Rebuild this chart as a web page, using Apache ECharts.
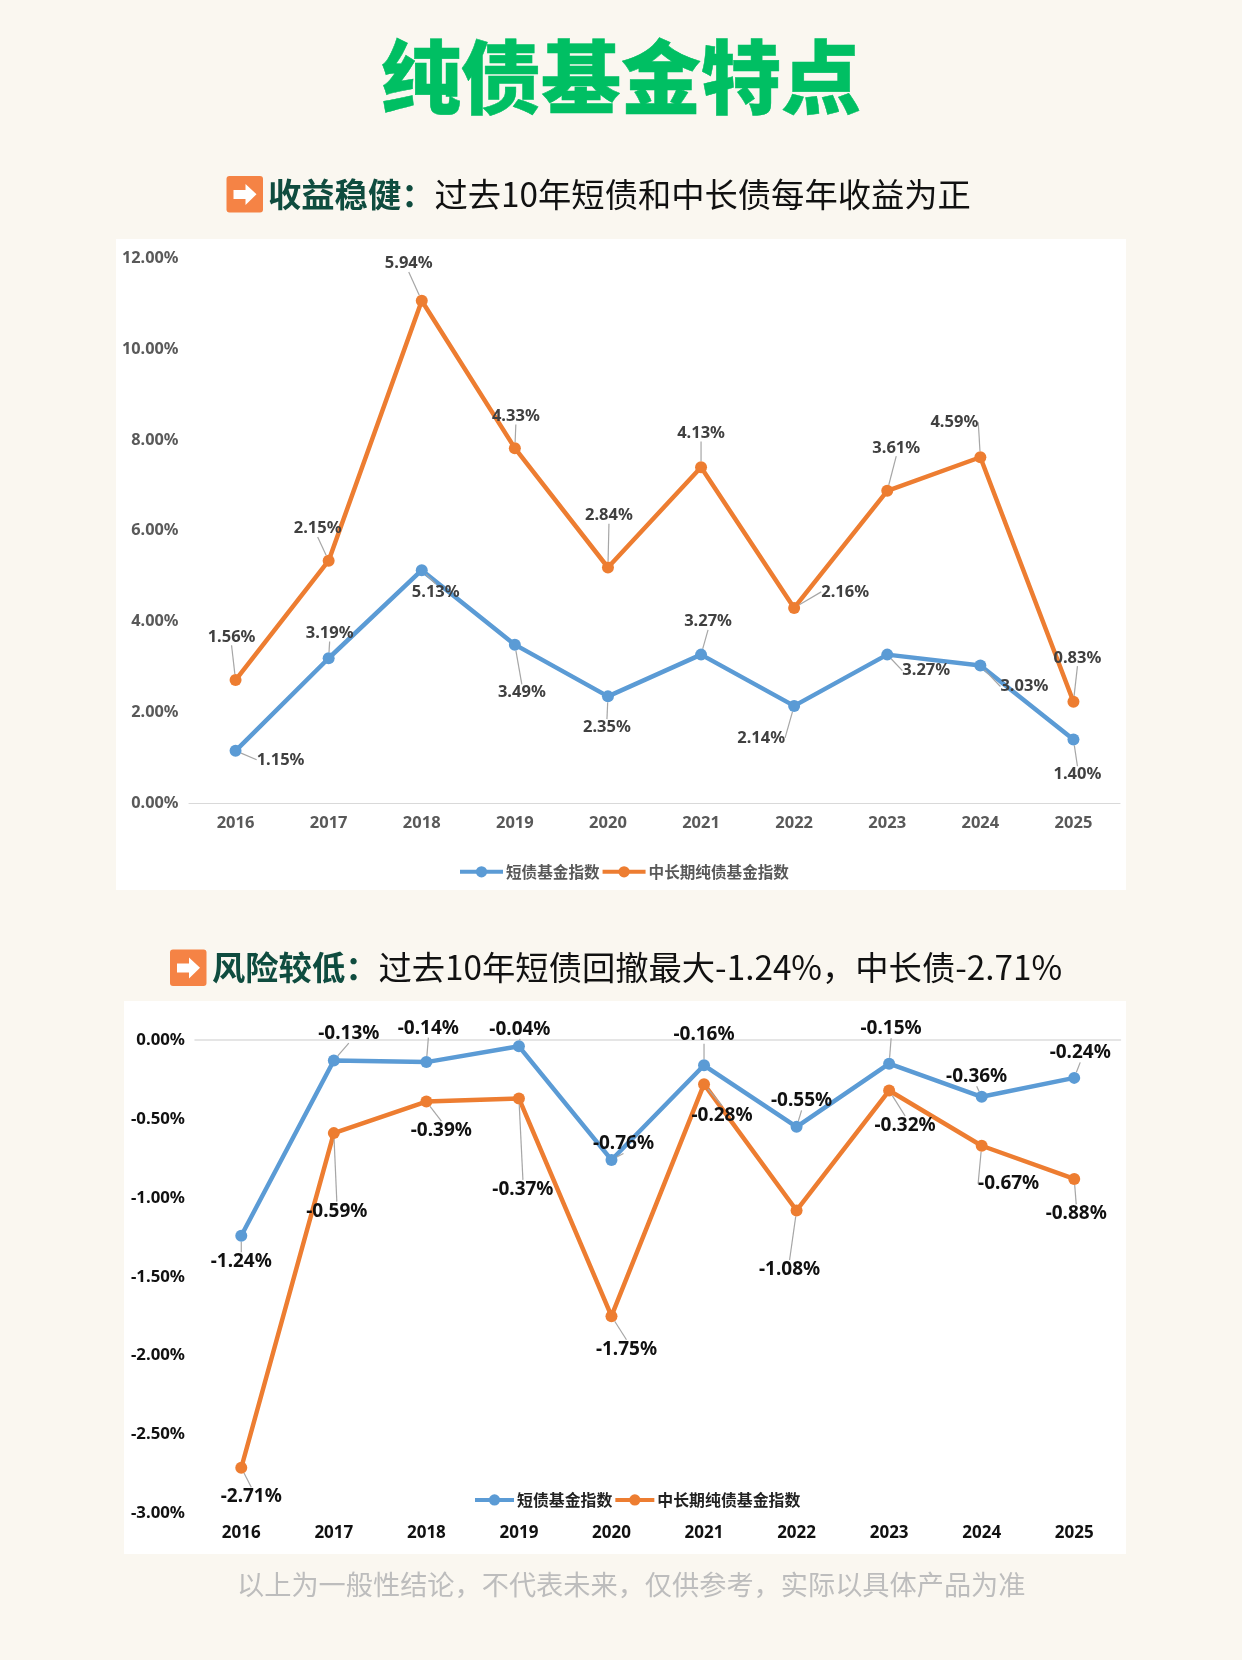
<!DOCTYPE html>
<html><head><meta charset="utf-8">
<style>html,body{margin:0;padding:0;background:#FAF7F0}#c{width:1242px;height:1660px}</style>
<script src="https://cdn.jsdelivr.net/npm/echarts@6/dist/echarts.min.js"></script>
</head><body><div id="c"></div>
<script>
const years = ['2016','2017','2018','2019','2020','2021','2022','2023','2024','2025'];
const SHORT = '短债基金指数', MID = '中长期纯债基金指数';
const returnShort = [1.15,3.19,5.13,3.49,2.35,3.27,2.14,3.27,3.03,1.40];
const returnMid = [1.56,2.15,5.94,4.33,2.84,4.13,2.16,3.61,4.59,0.83];
const drawdownShort = [-1.24,-0.13,-0.14,-0.04,-0.76,-0.16,-0.55,-0.15,-0.36,-0.24];
const drawdownMid = [-2.71,-0.59,-0.39,-0.37,-1.75,-0.28,-1.08,-0.32,-0.67,-0.88];

// label offsets from the marker, [dx, dy] in px
const offReturnShort = [[45,9],[1,-25],[14,22],[7,48],[-1,31],[7,-33],[-33,32],[39,16],[44,21],[4,35]];
const offReturnMid = [[-4,-43],[-11,-32],[-13,-37],[1,-32],[1,-52],[0,-34],[51,-16],[9,-43],[-26,-35],[4,-44]];
const offDrawShort = [[0,26],[15,-27],[2,-34],[1,-17],[12,-16],[0,-31],[5,-26],[2,-35],[-5,-20],[6,-25]];
const offDrawMid = [[10,29],[3,78],[15,29],[4,91],[15,33],[18,31],[-7,59],[16,35],[27,38],[2,35]];

const FONT = '"Noto Sans","Noto Sans CJK SC",sans-serif';
const CJK = '"Noto Sans CJK SC",sans-serif';
const BLUE = '#5B9BD5', ORANGE = '#ED7D31';
const pct = v => Number(v).toFixed(2) + '%';

function line(name, data, color, off, labelSize, labelColor, gi, stack) {
  return {
    type:'line', name, data, stack, xAxisIndex:gi===0?0:1, yAxisIndex:gi,
    symbol:'circle', symbolSize:12, showSymbol:true, smooth:false,
    lineStyle:{color, width:4.5}, itemStyle:{color},
    label:{show:true, position:'inside', formatter:p=>pct(p.value),
      fontFamily:FONT, fontSize:labelSize, fontWeight:'bold', color:labelColor},
    labelLine:{show:true, smooth:false, lineStyle:{color:'#A6A6A6', width:1.2}},
    labelLayout:p=>({dx:off[p.dataIndex][0], dy:off[p.dataIndex][1], hideOverlap:false}),
    animation:false, silent:true, z:3
  };
}
function icon(x,y){
  return {type:'group', x, y, z:5, children:[
    {type:'rect', shape:{x:0,y:0,width:36.5,height:36.5,r:3}, style:{fill:'#F58345'}},
    {type:'polygon', shape:{points:[[7,14],[19,14],[19,8],[30,18.3],[19,29],[19,23],[7,23]]}, style:{fill:'#fff'}}
  ]};
}
const head = (x,y,a,b)=>({text:`{a|${a}}{b|${b}}`, left:x, top:y, padding:0,
  textStyle:{rich:{
    a:{fontFamily:CJK,fontSize:33.3,fontWeight:'bold',color:'#0F4C3F'},
    b:{fontFamily:CJK,fontSize:33.3,fontWeight:'normal',color:'#111111'}}}});

const option = {
  backgroundColor:'#FAF7F0', animation:false,
  title:[
    {text:'纯债基金特点', left:621, top:37, padding:0, textAlign:'center',
     textStyle:{fontFamily:CJK,fontSize:80,fontWeight:900,color:'#00BF63',textBorderColor:'#00BF63',textBorderWidth:0.5}},
    head(268,178,'收益稳健：','过去10年短债和中长债每年收益为正'),
    head(212,951,'风险较低：','过去10年短债回撤最大-1.24%，中长债-2.71%'),
    {text:'以上为一般性结论，不代表未来，仅供参考，实际以具体产品为准', left:237, top:1571, padding:0,
     textStyle:{fontFamily:CJK,fontSize:27.2,fontWeight:'normal',color:'#BDBDBD'}}
  ],
  graphic:[
    {type:'rect', z:-1, shape:{x:116,y:239,width:1010,height:651}, style:{fill:'#fff'}},
    {type:'rect', z:-1, shape:{x:124,y:1001,width:1002,height:553}, style:{fill:'#fff'}},
    icon(226.5,176), icon(170,949.5)
  ],
  grid:[
    {left:189, top:258.5, width:931, height:544.5},
    {left:195, top:1040, width:925.5, height:473.5}
  ],
  xAxis:[
    {type:'category', gridIndex:0, data:years, boundaryGap:true,
     axisLine:{lineStyle:{color:'#D9D9D9',width:1.2}}, axisTick:{show:false},
     axisLabel:{fontFamily:FONT,fontSize:16.5,fontWeight:'bold',color:'#595959',margin:12}},
    {type:'category', gridIndex:1, data:years, position:'bottom', boundaryGap:true,
     axisLine:{show:false,onZero:false}, axisTick:{show:false},
     axisLabel:{fontFamily:FONT,fontSize:17,fontWeight:'bold',color:'#111111',margin:11}},
    {type:'category', gridIndex:1, data:years, position:'top', boundaryGap:true,
     axisLine:{show:true,onZero:false,lineStyle:{color:'#DDDDDD',width:1.5}}, axisTick:{show:false}, axisLabel:{show:false}}
  ],
  yAxis:[
    {type:'value', gridIndex:0, min:0, max:12, interval:2, axisLine:{show:false}, axisTick:{show:false}, splitLine:{show:false},
     axisLabel:{formatter:pct,fontFamily:FONT,fontSize:16.3,fontWeight:'bold',color:'#595959',margin:10.5}},
    {type:'value', gridIndex:1, min:-3, max:0, interval:0.5, axisLine:{show:false}, axisTick:{show:false}, splitLine:{show:false},
     axisLabel:{formatter:pct,fontFamily:FONT,fontSize:16.8,fontWeight:'bold',color:'#111111',margin:10}}
  ],
  legend:[
    {left:458, top:864, itemWidth:43, itemHeight:14, itemGap:1, padding:0, selectedMode:false, data:[SHORT,MID],
     lineStyle:{width:4},
     textStyle:{fontFamily:CJK,fontSize:15.6,fontWeight:'bold',color:'#595959',padding:[0,0,0,-2]}},
    {left:473, top:1492, itemWidth:39, itemHeight:14, itemGap:1, padding:0, selectedMode:false, data:[SHORT,MID],
     lineStyle:{width:4},
     textStyle:{fontFamily:CJK,fontSize:15.9,fontWeight:'bold',color:'#222222',padding:[0,0,0,-2]}}
  ],
  series:[
    line(SHORT, returnShort, BLUE, offReturnShort, 16.5, '#404040', 0, 'ret'),
    line(MID, returnMid, ORANGE, offReturnMid, 16.5, '#404040', 0, 'ret'),
    line(SHORT, drawdownShort, BLUE, offDrawShort, 19, '#111111', 1),
    line(MID, drawdownMid, ORANGE, offDrawMid, 19, '#111111', 1)
  ]
};
const chart = echarts.init(document.getElementById('c'), null, {renderer:'canvas', width:1242, height:1660});
chart.setOption(option);
</script></body></html>
